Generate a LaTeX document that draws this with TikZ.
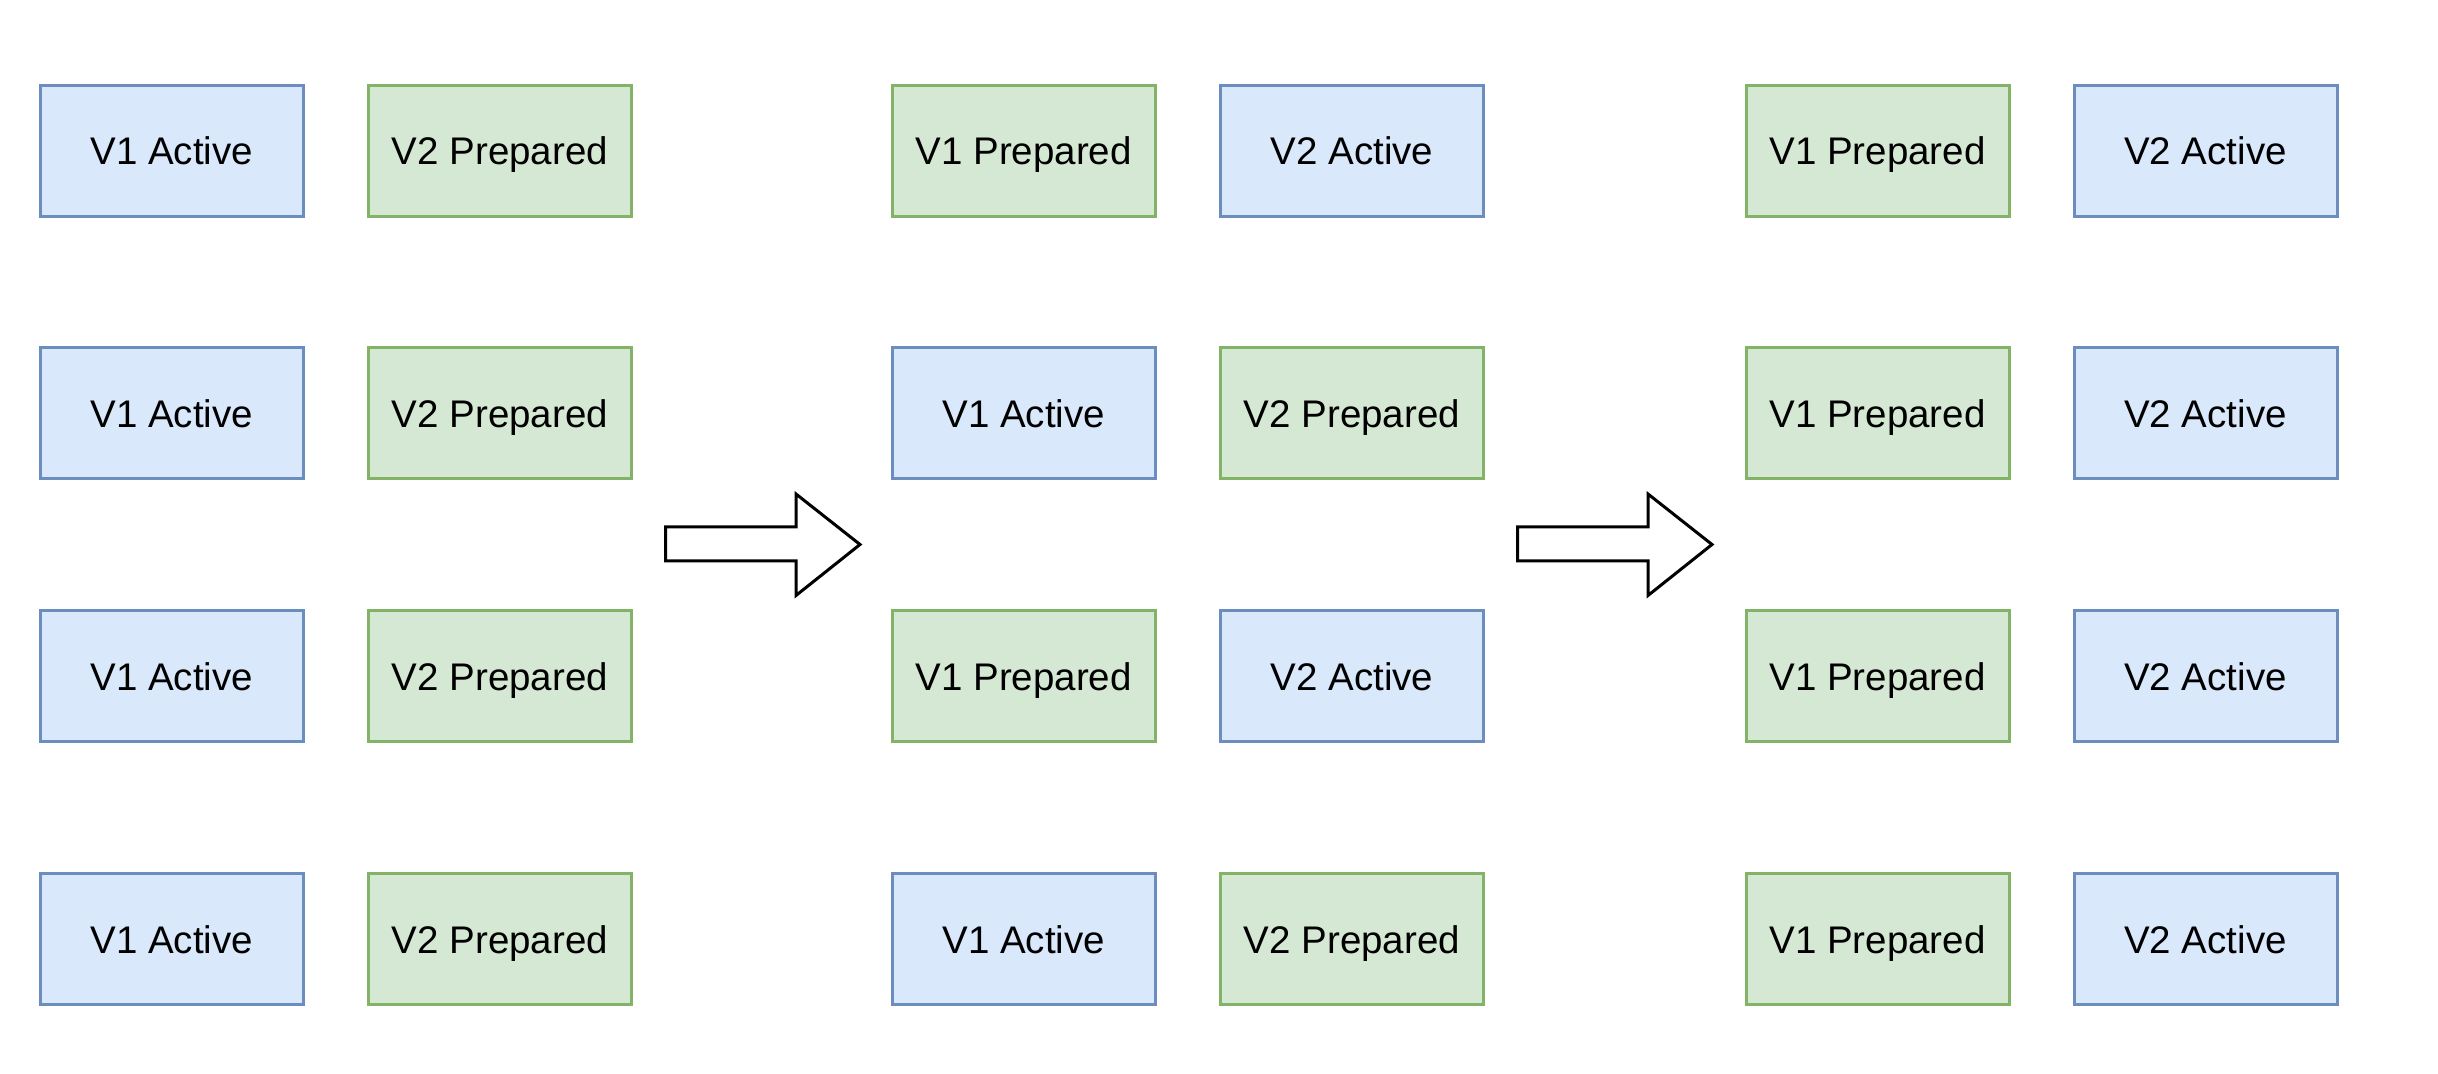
\documentclass[tikz,border=0pt]{standalone}
\usepackage{fontspec}
\setmainfont{Liberation Sans}
\usepackage{tikz}
\usetikzlibrary{positioning}
\definecolor{ActFill}{HTML}{DAE8FC}
\definecolor{ActLine}{HTML}{6C8EBF}
\definecolor{PrepFill}{HTML}{D5E8D4}
\definecolor{PrepLine}{HTML}{82B366}

\begin{document}
\begin{tikzpicture}[
  x=0.5pt,y=-0.5pt,
  every node/.style={font=\fontsize{19.25}{23}\selectfont},
  active/.style={draw=ActLine,fill=ActFill,line width=1.5pt,
    minimum width=131.5pt,minimum height=65.5pt,inner sep=0pt,
    text height=1.4em,text depth=0pt},
  prepared/.style={draw=PrepLine,fill=PrepFill,line width=1.5pt,
    minimum width=131.5pt,minimum height=65.5pt,inner sep=0pt,
    text height=1.4em,text depth=0pt},
  bigarrow/.style={draw=black,fill=white,line width=1.5pt,line join=miter}
]
  \useasboundingbox (0,0) rectangle (2438,1074);

  % before the switch
  \foreach \r/\y in {1/150.8,2/413.5,3/676.5,4/939.2}{
    \node[active]   (a\r one) at (171.8,\y) {V1 Active};
    \node[prepared] (a\r two) at (500,\y) {V2 Prepared};
  }

  % half switched
  \node[prepared] (b1one) at (1023.7,150.8) {V1 Prepared};
  \node[active]   (b1two) at (1352,150.8) {V2 Active};
  \node[active]   (b2one) at (1023.7,413.5) {V1 Active};
  \node[prepared] (b2two) at (1352,413.5) {V2 Prepared};
  \node[prepared] (b3one) at (1023.7,676.5) {V1 Prepared};
  \node[active]   (b3two) at (1352,676.5) {V2 Active};
  \node[active]   (b4one) at (1023.7,939.2) {V1 Active};
  \node[prepared] (b4two) at (1352,939.2) {V2 Prepared};

  % all switched
  \foreach \r/\y in {1/150.8,2/413.5,3/676.5,4/939.2}{
    \node[prepared] (c\r one) at (1877.5,\y) {V1 Prepared};
    \node[active]   (c\r two) at (2205.5,\y) {V2 Active};
  }

  % step arrows
  \foreach \dx in {0,852}{
    \draw[bigarrow,xshift=\dx*0.5pt] (665.5,527) -- (796,527) -- (796,494)
      -- (860,544.5) -- (796,595.5) -- (796,561) -- (665.5,561) -- cycle;
  }
\end{tikzpicture}
\end{document}
